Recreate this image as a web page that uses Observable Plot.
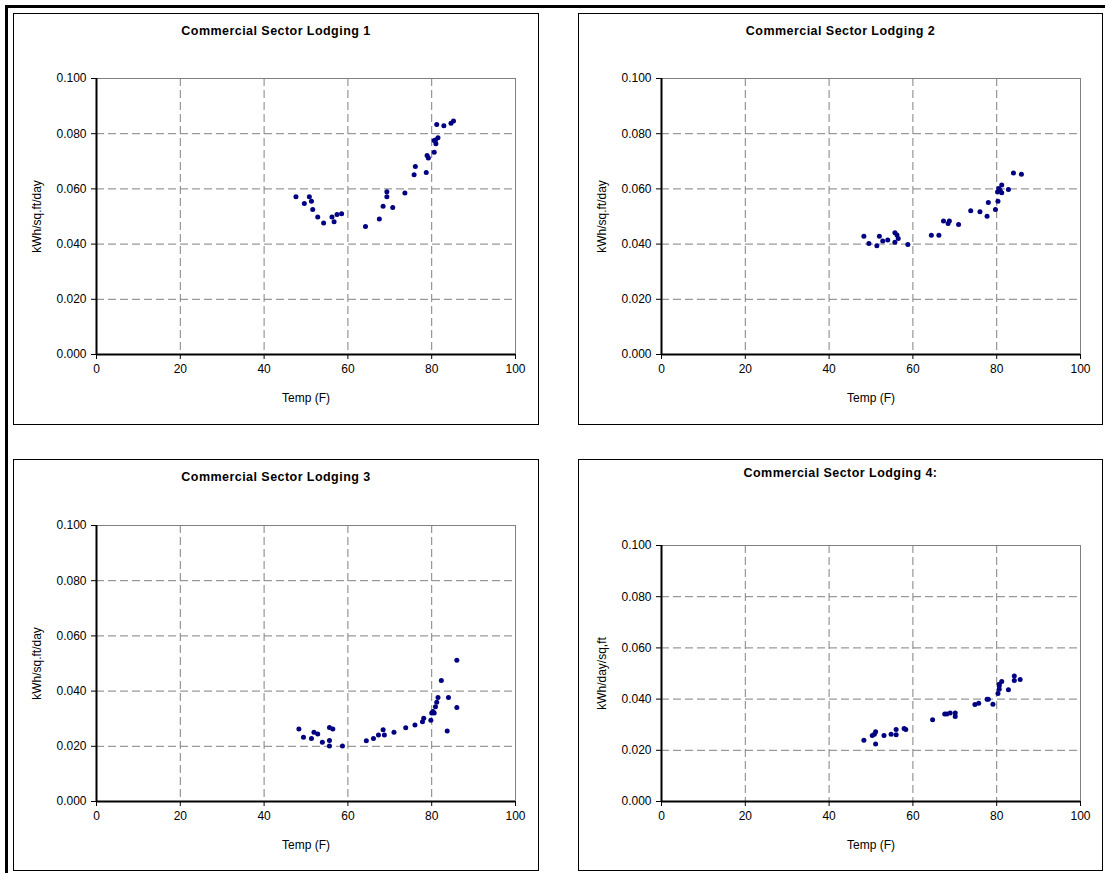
<!DOCTYPE html>
<html>
<head>
<meta charset="utf-8">
<script src="https://cdn.jsdelivr.net/npm/d3@7"></script>
<script src="https://cdn.jsdelivr.net/npm/@observablehq/plot@0.6"></script>
<style>
  html, body { margin: 0; padding: 0; background: #fff; }
  body { width: 1105px; height: 873px; position: relative; overflow: hidden;
         font-family: "Liberation Sans", Arial, sans-serif; }
  .page-top { position: absolute; left: 5px; top: 5px; width: 1100px; height: 2.5px; background: #000; }
  .page-left { position: absolute; left: 5px; top: 5px; width: 2.5px; height: 868px; background: #000; }
  .panel { position: absolute; }
  .panel svg { position: absolute; left: 0; top: 0; overflow: visible; }
  .panel-border { position: absolute; left: 0; top: 0; right: 0; bottom: 0;
                  border: 1.5px solid #000; box-sizing: border-box; pointer-events: none; }
  .panel-title { position: absolute; left: 0; right: 0; text-align: center;
                 font-weight: bold; font-size: 12.5px; letter-spacing: 0.45px; color: #000; }
</style>
</head>
<body>
<div class="page-top"></div>
<div class="page-left"></div>
<script>
// Monthly average temperature (F) vs. electricity intensity for four lodging groups
const lodging1Temp = [47.6, 49.6, 50.8, 51.3, 51.6, 52.8, 54.2, 56.2, 56.7, 57.4, 58.5, 64.2, 67.5, 68.4, 69.3, 69.3, 70.7, 73.6, 75.8, 76.1, 78.7, 78.9, 79.2, 80.6, 80.6, 81.0, 80.9, 81.5, 81.2, 82.9, 84.6, 85.2];
const lodging1Kwh  = [0.0572, 0.0547, 0.0572, 0.0555, 0.0525, 0.0498, 0.0476, 0.0498, 0.0481, 0.0507, 0.0510, 0.0464, 0.0491, 0.0537, 0.0572, 0.0590, 0.0533, 0.0585, 0.0651, 0.0681, 0.0659, 0.0721, 0.0712, 0.0733, 0.0775, 0.0764, 0.0777, 0.0785, 0.0833, 0.0829, 0.0838, 0.0846];

const lodging2Temp = [48.3, 49.5, 51.4, 52.0, 52.8, 54.0, 55.7, 55.7, 56.2, 56.5, 58.8, 64.4, 66.2, 67.3, 68.4, 68.7, 70.9, 73.8, 76.0, 77.7, 78.0, 79.7, 80.3, 80.2, 80.5, 81.2, 81.2, 80.8, 82.8, 84.0, 85.9];
const lodging2Kwh  = [0.0428, 0.0402, 0.0394, 0.0428, 0.0411, 0.0415, 0.0441, 0.0407, 0.0433, 0.0420, 0.0399, 0.0432, 0.0432, 0.0484, 0.0475, 0.0484, 0.0471, 0.0521, 0.0517, 0.0501, 0.0551, 0.0525, 0.0555, 0.0589, 0.0601, 0.0614, 0.0586, 0.0595, 0.0598, 0.0658, 0.0653];

const lodging3Temp = [48.3, 49.4, 51.3, 51.9, 52.8, 53.9, 55.6, 56.4, 55.6, 55.6, 58.7, 64.4, 66.1, 67.3, 68.4, 68.7, 71.0, 73.8, 76.0, 77.8, 78.1, 79.8, 80.0, 80.3, 80.6, 80.9, 81.2, 81.5, 82.3, 84.0, 83.7, 86.0, 86.0];
const lodging3Kwh  = [0.0263, 0.0233, 0.0228, 0.0251, 0.0245, 0.0215, 0.0268, 0.0263, 0.0221, 0.0201, 0.0201, 0.0220, 0.0228, 0.0241, 0.0260, 0.0241, 0.0251, 0.0267, 0.0277, 0.0289, 0.0302, 0.0294, 0.0321, 0.0326, 0.0321, 0.0343, 0.0360, 0.0377, 0.0438, 0.0377, 0.0255, 0.0512, 0.0341];

const lodging4Temp = [48.3, 50.3, 50.8, 51.1, 51.1, 53.1, 54.8, 56.0, 56.0, 57.9, 58.3, 64.7, 67.6, 68.1, 68.9, 70.1, 70.1, 74.8, 75.7, 77.7, 78.0, 79.1, 80.3, 80.6, 80.6, 80.6, 81.2, 82.8, 84.2, 84.2, 85.6];
const lodging4Kwh  = [0.0239, 0.0258, 0.0263, 0.0272, 0.0225, 0.0258, 0.0263, 0.0281, 0.0261, 0.0285, 0.0281, 0.0319, 0.0342, 0.0342, 0.0346, 0.0346, 0.0332, 0.0379, 0.0384, 0.0399, 0.0399, 0.0380, 0.0422, 0.0438, 0.0451, 0.0458, 0.0469, 0.0437, 0.0490, 0.0473, 0.0477];

const panelTitles = ["Commercial Sector Lodging 1", "Commercial Sector Lodging 2", "Commercial Sector Lodging 3", "Commercial Sector Lodging 4:"];
const yLabels = ["kWh/sq.ft/day", "kWh/sq.ft/day", "kWh/sq.ft/day", "kWh/day/sq,ft"];
const xLabel = "Temp (F)";
const xTicks = [0, 20, 40, 60, 80, 100];
const yTicks = [0, 0.02, 0.04, 0.06, 0.08, 0.1];

const series = [
  [lodging1Temp, lodging1Kwh],
  [lodging2Temp, lodging2Kwh],
  [lodging3Temp, lodging3Kwh],
  [lodging4Temp, lodging4Kwh]
];

// Panel boxes on the page and the plot-area margins inside each
const layout = [
  {left: 13,  top: 13,  width: 526, height: 412, mt: 65, mb: 71, ml: 83, mr: 24, titleTop: 11},
  {left: 578, top: 13,  width: 525, height: 412, mt: 65, mb: 71, ml: 83, mr: 23, titleTop: 11},
  {left: 13,  top: 459, width: 526, height: 412, mt: 66, mb: 70, ml: 83, mr: 24, titleTop: 11},
  {left: 578, top: 459, width: 525, height: 412, mt: 86, mb: 70, ml: 83, mr: 23, titleTop: 7}
];

const gridStyle = {stroke: "#808080", strokeOpacity: 1, strokeWidth: 1, strokeDasharray: "8,4"};

series.forEach(([temps, kwh], i) => {
  const box = layout[i];
  const rows = temps.map((t, j) => ({temp: t, kwh: kwh[j]}));

  const chart = Plot.plot({
    width: box.width,
    height: box.height,
    marginTop: box.mt,
    marginBottom: box.mb,
    marginLeft: box.ml,
    marginRight: box.mr,
    style: {fontFamily: "'Liberation Sans', Arial, sans-serif", fontSize: "12px", color: "#000", background: "transparent"},
    x: {domain: [0, 100]},
    y: {domain: [0, 0.1]},
    marks: [
      Plot.gridX(xTicks.filter(d => d > 0 && d < 100), gridStyle),
      Plot.gridY(yTicks.filter(d => d > 0 && d < 0.1), gridStyle),
      Plot.frame({stroke: "#808080", strokeWidth: 1}),
      Plot.axisX({
        ticks: xTicks, tickSize: 5, tickPadding: 5, stroke: "#000",
        label: xLabel, labelAnchor: "center", labelArrow: "none", labelOffset: 47
      }),
      Plot.axisY({
        ticks: yTicks, tickSize: 5, tickPadding: 5, stroke: "#000",
        tickFormat: d3.format(".3f"),
        label: yLabels[i], labelAnchor: "center", labelArrow: "none", labelOffset: 64
      }),
      Plot.ruleX([0], {stroke: "#000", strokeWidth: 2}),
      Plot.ruleY([0], {stroke: "#000", strokeWidth: 2}),
      Plot.dot(rows, {x: "temp", y: "kwh", r: 2.5, fill: "#000080", stroke: "none"})
    ]
  });

  const panel = document.createElement("div");
  panel.className = "panel";
  Object.assign(panel.style, {left: box.left + "px", top: box.top + "px", width: box.width + "px", height: box.height + "px"});

  const title = document.createElement("div");
  title.className = "panel-title";
  title.style.top = box.titleTop + "px";
  title.textContent = panelTitles[i];

  const border = document.createElement("div");
  border.className = "panel-border";

  panel.appendChild(chart);
  panel.appendChild(title);
  panel.appendChild(border);
  document.body.appendChild(panel);
});
</script>
</body>
</html>
